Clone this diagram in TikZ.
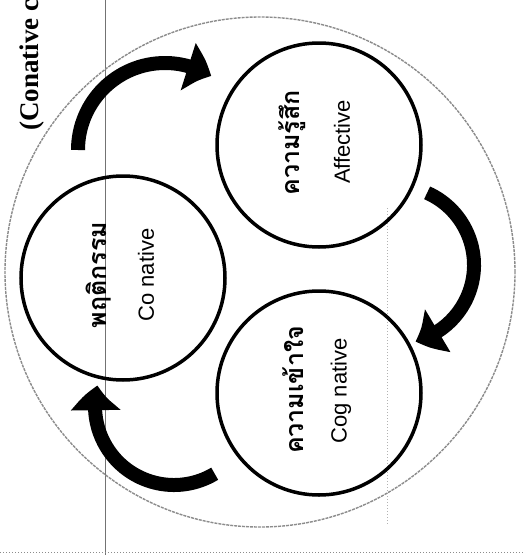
\documentclass[tikz,border=0pt]{standalone}
\usepackage{fontspec}
\setmainfont{Liberation Sans}
\newfontfamily\thaifont[Script=Thai]{Loma}
\newfontfamily\titlefont{Liberation Serif}
\usetikzlibrary{arrows.meta,bending,calc}
\begin{document}
\begin{tikzpicture}[x=1pt,y=-1pt,
  ring/.style={circle,draw=black,line width=3.5pt,minimum size=204pt,inner sep=0pt},
  outerring/.style={circle,draw=black!45,line width=1.4pt,dash pattern=on 3pt off 1pt,minimum size=510pt,inner sep=0pt},
  thailabel/.style={rotate=90,font=\thaifont\bfseries\fontsize{25}{28}\selectfont,inner sep=0pt},
  latlabel/.style={rotate=90,font=\fontsize{22}{26}\selectfont,inner sep=0pt},
  cyc/.style={line width=14pt,-{Triangle[width=48pt,length=25pt,bend]}},
  guide/.style={draw=black!55,line width=0.9pt},
  dotguide/.style={draw=black!45,line width=0.8pt,dash pattern=on 1pt off 2pt}]
\fill[white] (0,0) rectangle (524,555);
\useasboundingbox (0,0) rectangle (524,555);

% guide lines of the scanned page
\coordinate (vt) at (105,0);
\coordinate (vb) at (105,555);
\draw[guide] (vt) -- (vb);
\coordinate (hl) at (0,552);
\coordinate (hr) at (524,552);
\draw[dotguide] (hl) -- (hr);
\coordinate (dt) at (387,208);
\coordinate (db) at (387,525);
\draw[dotguide,draw=black!30] (dt) -- (db);

% outer faint circle
\node[outerring] (outer) at (260,272) {};

% three circles
\node[ring] (aff) at (319,145) {};
\node[ring] (con) at (123,278) {};
\node[ring] (cog) at (319,393) {};

% labels
\node[thailabel] (affth) at (292,143) {ความรู้สึก};
\node[latlabel] (affen) at (342,142) {Affective};
\node[thailabel] (conth) at (99,275) {พฤติกรรม};
\node[latlabel] (conen) at (146,275) {Co native};
\node[thailabel] (cogth) at (293,390) {ความเข้าใจ};
\node[latlabel] (cogen) at (341,391) {Cog native};

% title (cut at the page edge)
\node[rotate=90,anchor=base west,inner sep=0pt,
      font=\titlefont\bfseries\fontsize{27}{30}\selectfont] (title) at (38,131) {(Conative c};

% cycle arrows
\coordinate (k1) at (165,150);
\coordinate (k2) at (395,265);
\coordinate (k3) at (174,406);
\draw[cyc] ($(k1)+(180:87pt)$) arc[start angle=180,end angle=58,radius=87pt];
\draw[cyc] ($(k2)+(66:79pt)$) arc[start angle=66,end angle=-75,radius=79pt];
\draw[cyc] ($(k3)+(-59:79pt)$) arc[start angle=-59,end angle=-195,radius=79pt];
\end{tikzpicture}
\end{document}
